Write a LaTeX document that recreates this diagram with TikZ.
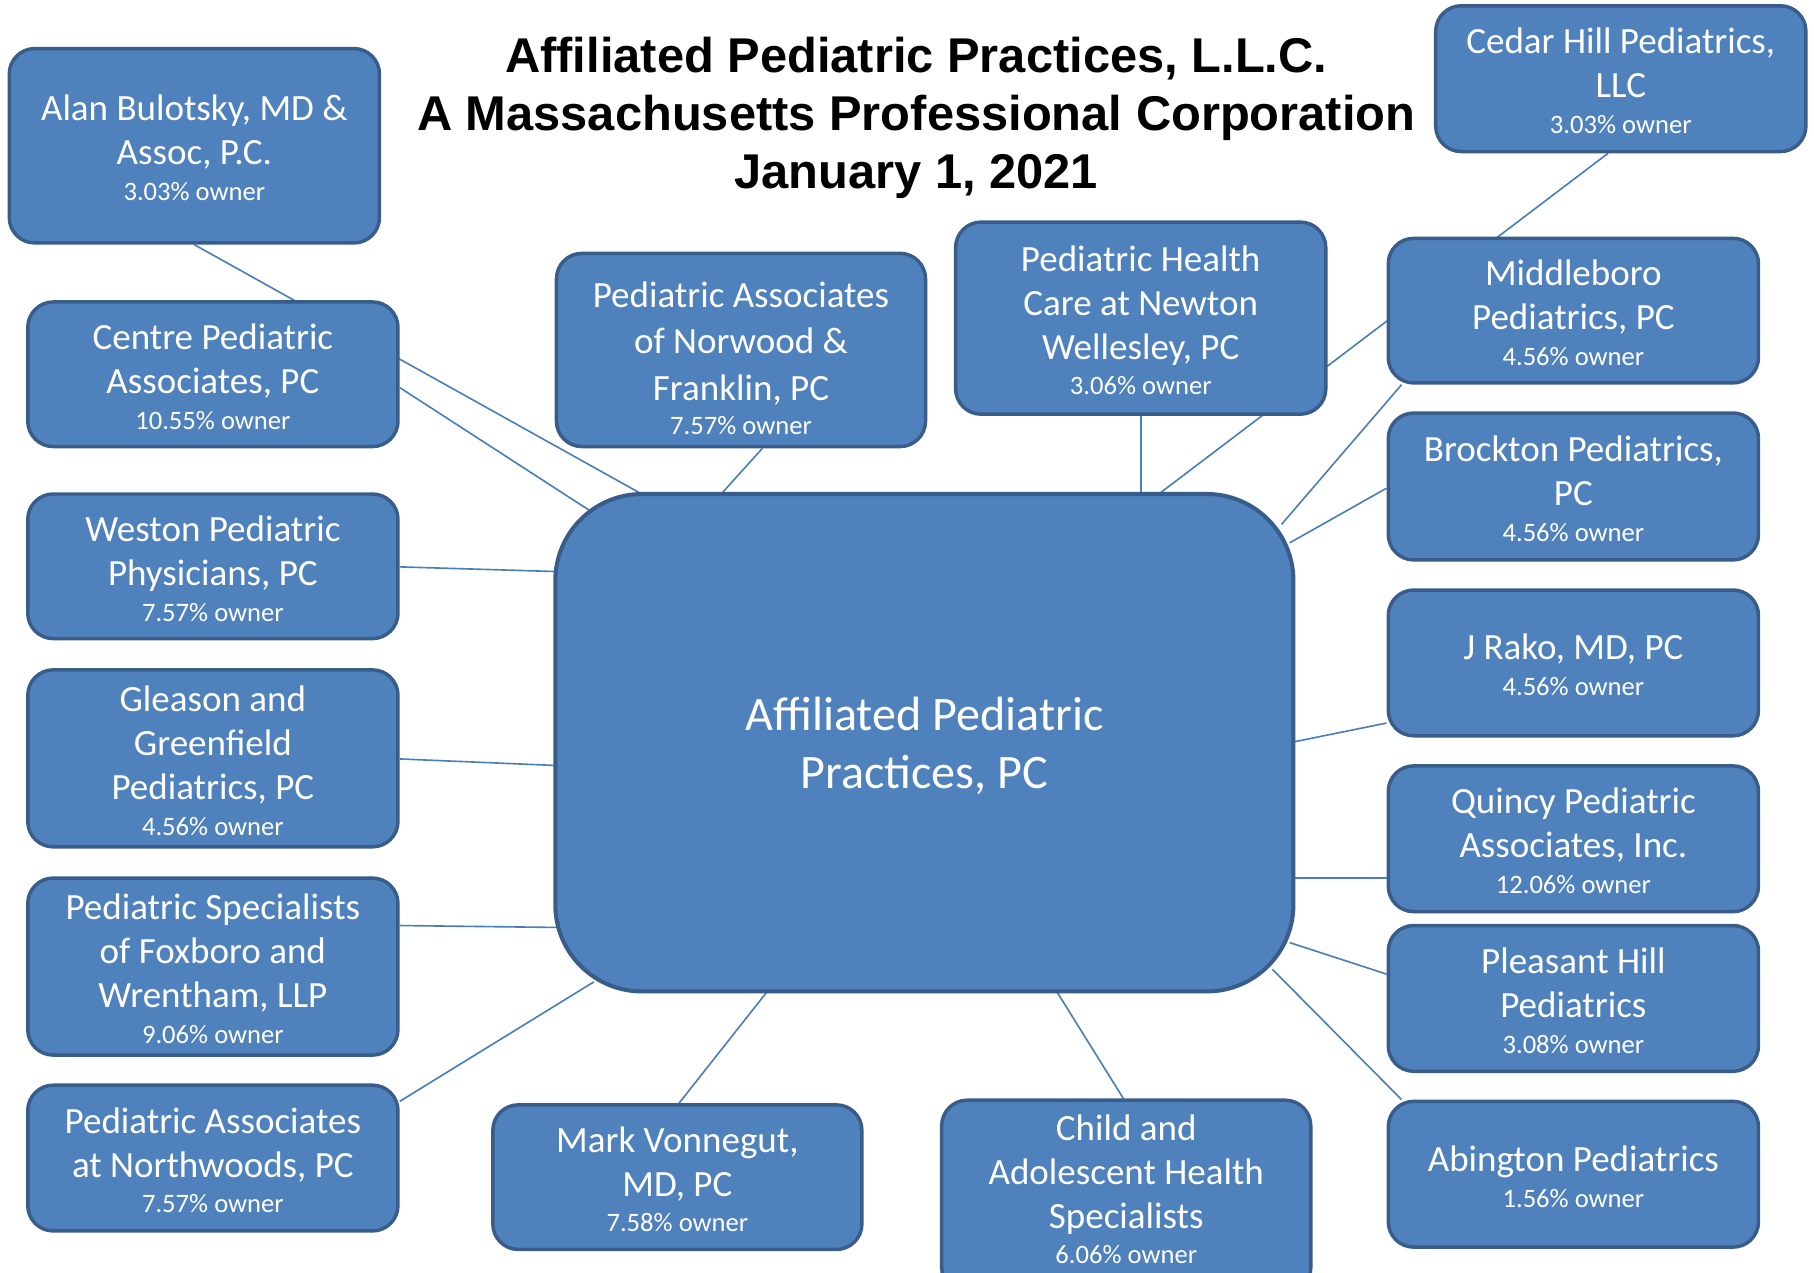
\documentclass[tikz,border=0pt]{standalone}
\usepackage{fontspec}
\setmainfont{Carlito}
\newfontfamily\titlefont{Liberation Sans}
\usetikzlibrary{backgrounds}
\definecolor{boxfill}{HTML}{4F81BD}
\definecolor{boxedge}{HTML}{385D8A}
\definecolor{linkcol}{HTML}{4A7EBB}
\newcommand{\own}[1]{{\fontsize{23}{25}\selectfont #1}}
\newcommand{\tp}{\rule{0pt}{26pt}}
\tikzset{
  orgbox/.style={draw=boxedge, fill=boxfill, line width=3pt, rounded corners=22pt,
    text=white, align=center, inner sep=0pt, minimum width=320pt,
    font=\fontsize{32}{38}\selectfont},
  hubbox/.style={draw=boxedge, fill=boxfill, line width=3.5pt, rounded corners=75pt,
    text=white, align=center, inner sep=0pt, minimum width=638pt, minimum height=430pt,
    font=\fontsize{41.6}{50}\selectfont},
  link/.style={draw=linkcol, line width=1.4pt},
  titletext/.style={align=center, inner sep=0pt, font=\titlefont\bfseries\fontsize{42.2}{50}\selectfont}
}
\begin{document}
\begin{tikzpicture}[x=1pt,y=-1pt]
\useasboundingbox (0,0) rectangle (1568,1100);

\node[titletext] (title) at (792,102) {Affiliated Pediatric Practices, L.L.C.\\A Massachusetts Professional Corporation\\January 1, 2021};

\node[hubbox] (hub) at (799,642) {\rule{0pt}{35pt}Affiliated Pediatric\\Practices, PC};

\node[orgbox, minimum height=168pt] (alan) at (168,126) {\tp Alan Bulotsky, MD \&\\Assoc, P.C.\\[-7pt]\own{3.03\% owner}};
\node[orgbox, minimum height=125pt] (centre) at (184,323.5) {\tp Centre Pediatric\\Associates, PC\\[-7pt]\own{10.55\% owner}};
\node[orgbox, minimum height=125pt] (weston) at (184,489.5) {\tp Weston Pediatric\\Physicians, PC\\[-7pt]\own{7.57\% owner}};
\node[orgbox, minimum height=153pt] (gleason) at (184,655.5) {\tp Gleason and\\Greenfield\\Pediatrics, PC\\[-7pt]\own{4.56\% owner}};
\node[orgbox, minimum height=153pt] (foxboro) at (184,835.5) {\tp Pediatric Specialists\\of Foxboro and\\Wrentham, LLP\\[-7pt]\own{9.06\% owner}};
\node[orgbox, minimum height=126pt] (northwoods) at (184,1001) {\tp Pediatric Associates\\at Northwoods, PC\\[-7pt]\own{7.57\% owner}};
\node[orgbox, minimum height=167pt, minimum width=319pt, font=\fontsize{32}{40}\selectfont] (norwood) at (640.5,302.5) {\rule{0pt}{37pt}Pediatric Associates\\of Norwood \&\\Franklin, PC\\[-10pt]\own{7.57\% owner}};
\node[orgbox, minimum height=166pt] (newton) at (986,275) {\tp Pediatric Health\\Care at Newton\\Wellesley, PC\\[-7pt]\own{3.06\% owner}};
\node[orgbox, minimum height=126pt] (cedar) at (1401,68) {\tp Cedar Hill Pediatrics,\\LLC\\[-7pt]\own{3.03\% owner}};
\node[orgbox, minimum height=125pt] (middleboro) at (1360,268.5) {\tp Middleboro\\Pediatrics, PC\\[-7pt]\own{4.56\% owner}};
\node[orgbox, minimum height=127pt] (brockton) at (1360,420.5) {\tp Brockton Pediatrics,\\PC\\[-7pt]\own{4.56\% owner}};
\node[orgbox, minimum height=126pt] (rako) at (1360,573) {\tp J Rako, MD, PC\\[-7pt]\own{4.56\% owner}};
\node[orgbox, minimum height=126pt] (quincy) at (1360,725) {\tp Quincy Pediatric\\Associates, Inc.\\[-7pt]\own{12.06\% owner}};
\node[orgbox, minimum height=126pt] (pleasant) at (1360,863) {\tp Pleasant Hill\\Pediatrics\\[-7pt]\own{3.08\% owner}};
\node[orgbox, minimum height=126pt] (abington) at (1360,1015) {\tp Abington Pediatrics\\[-7pt]\own{1.56\% owner}};
\node[orgbox, minimum height=125pt, minimum width=319pt] (mark) at (585.5,1017.5) {\tp Mark Vonnegut,\\MD, PC\\[-7pt]\own{7.58\% owner}};
\node[orgbox, minimum height=167pt, minimum width=319pt] (child) at (973.5,1034.5) {\tp Child and\\Adolescent Health\\Specialists\\[-7pt]\own{6.06\% owner}\rule[-17pt]{0pt}{0pt}};

\begin{pgfonlayer}{background}
\fill[white] (0,0) rectangle (1568,1100);
\draw[link] (alan.south) -- ([shift={(93,11)}]hub.north west);
\draw[link] ([shift={(0,11.5)}]centre.east) -- ([shift={(36,19)}]hub.north west);
\draw[link] ([shift={(0,0.5)}]weston.east) -- ([shift={(10,69)}]hub.north west);
\draw[link] ([shift={(0,0.5)}]gleason.east) -- ([shift={(10,20)}]hub.west);
\draw[link] ([shift={(0,-35.5)}]foxboro.east) -- ([shift={(10,-57)}]hub.south west);
\draw[link] ([shift={(0,-49)}]northwoods.east) -- ([shift={(35,-10)}]hub.south west);
\draw[link] ([shift={(18.5,0)}]norwood.south) -- ([shift={(70,85)}]hub.north west);
\draw[link] (newton.south) -- ([shift={(187,9)}]hub.north);
\draw[link] ([shift={(-11,0)}]cedar.south) -- ([shift={(201,3)}]hub.north);
\draw[link] ([shift={(13,0)}]middleboro.south west) -- ([shift={(-12,28)}]hub.north east);
\draw[link] ([shift={(0,1.5)}]brockton.west) -- ([shift={(-5,44)}]hub.north east);
\draw[link] ([shift={(0,52)}]rako.west) -- ([shift={(-5,0)}]hub.east);
\draw[link] ([shift={(0,34)}]quincy.west) -- ([shift={(-5,117)}]hub.east);
\draw[link] ([shift={(0,-21)}]pleasant.west) -- ([shift={(-5,-44)}]hub.south east);
\draw[link] ([shift={(13,0)}]abington.north west) -- ([shift={(-20,-21)}]hub.south east);
\draw[link] ([shift={(1.5,0)}]mark.north) -- ([shift={(-134,-4)}]hub.south);
\draw[link] ([shift={(-2.5,0)}]child.north) -- ([shift={(113,-4)}]hub.south);
\end{pgfonlayer}
\end{tikzpicture}
\end{document}
